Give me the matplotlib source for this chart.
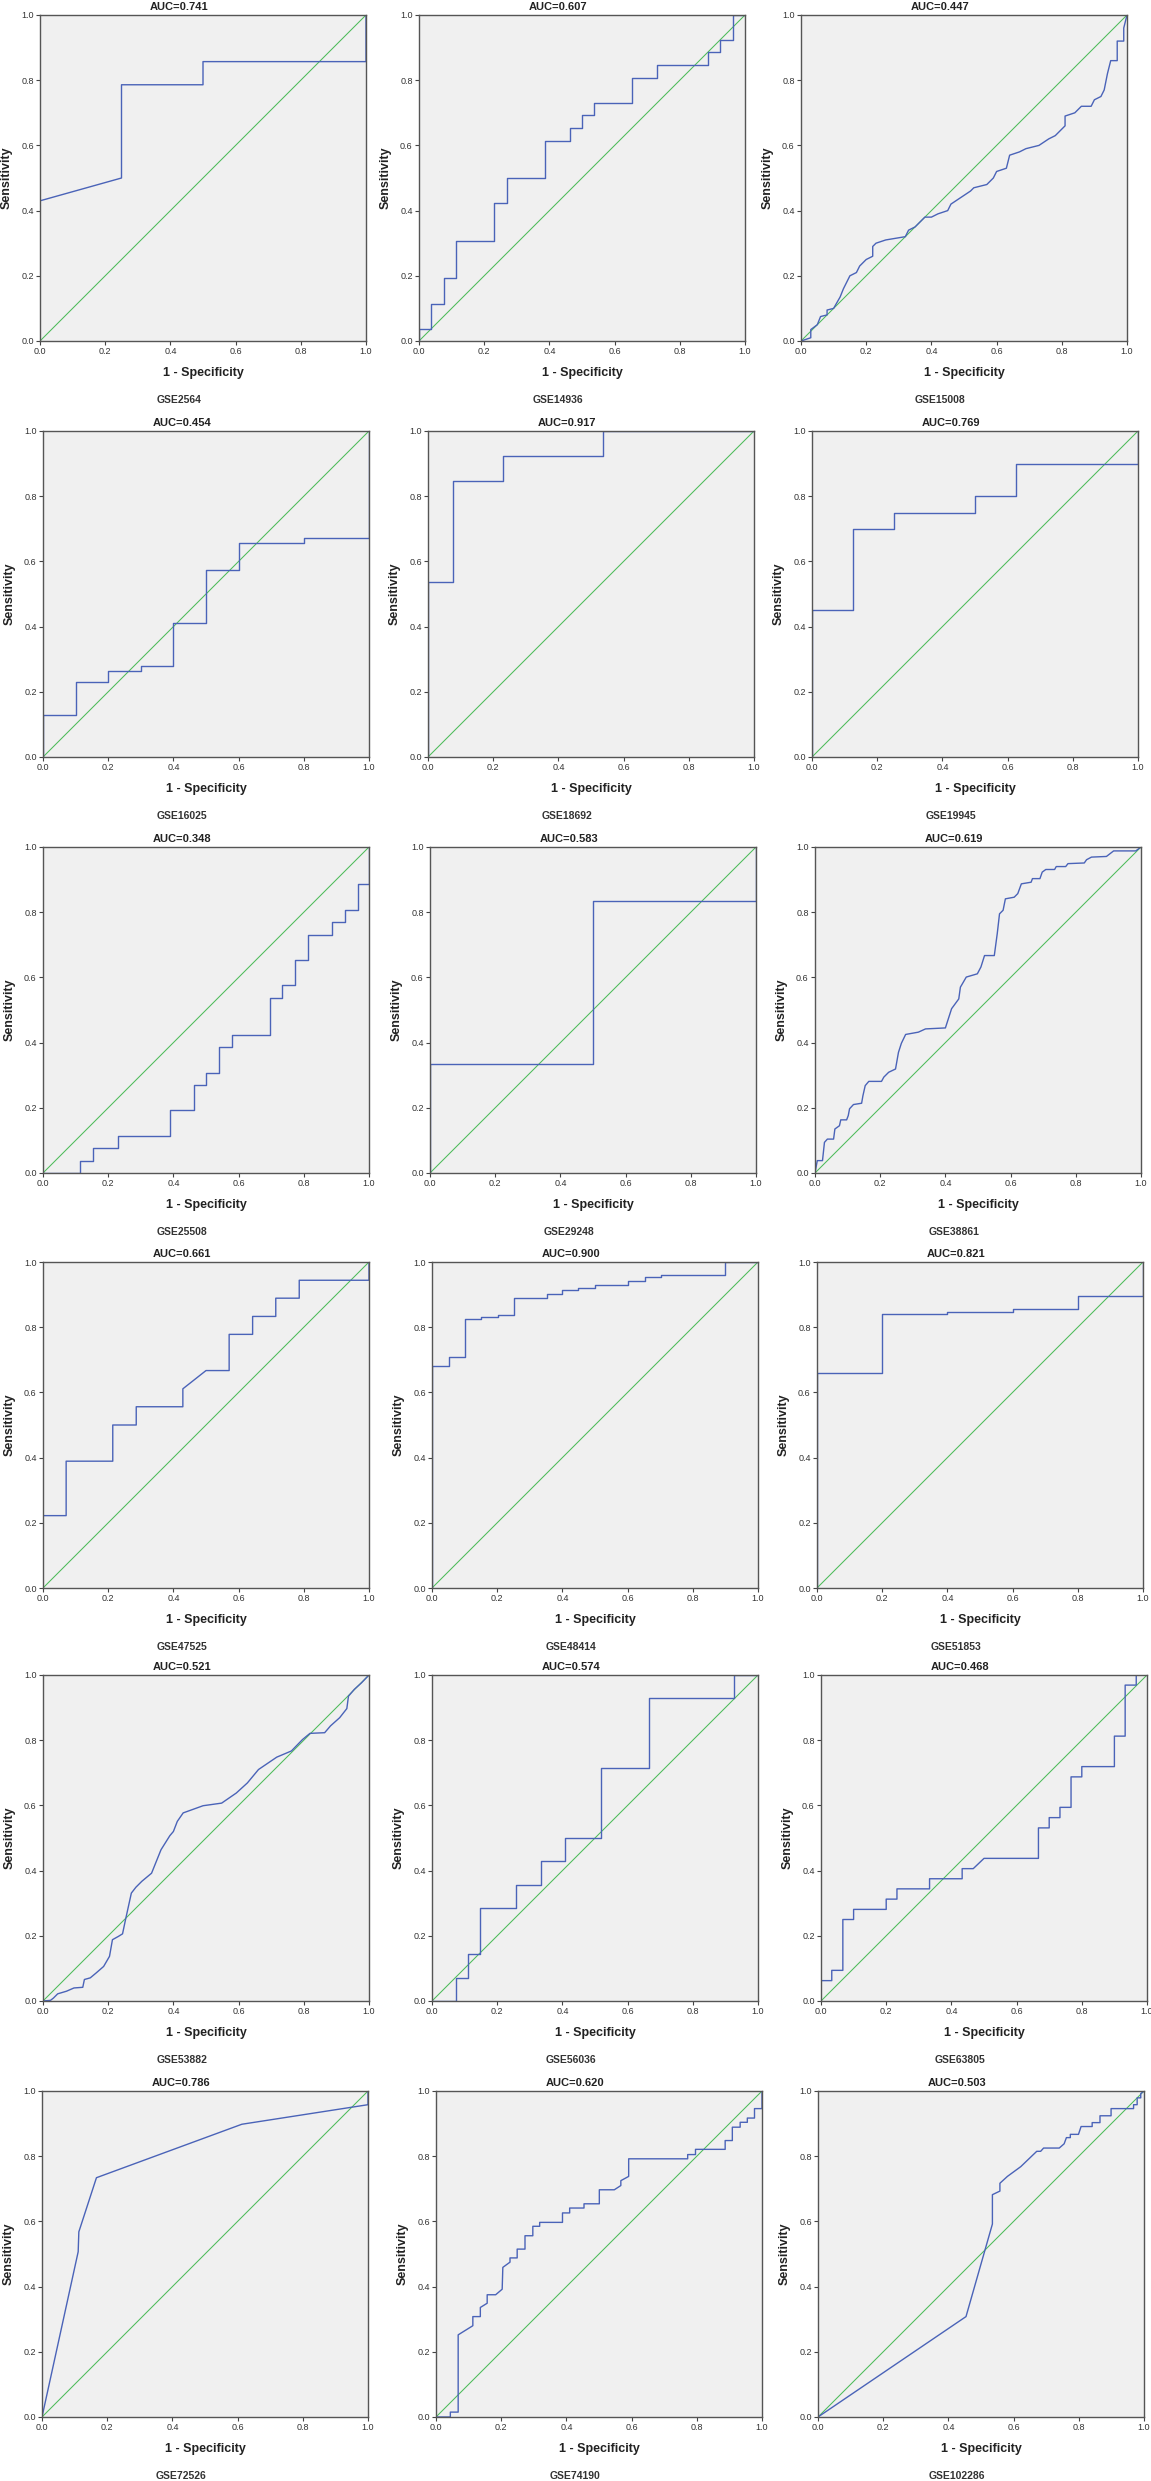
import matplotlib
matplotlib.use('Agg')
import matplotlib.pyplot as plt

plt.rcParams['font.family'] = ['Liberation Sans', 'DejaVu Sans']

# ---- data (1 - specificity, sensitivity) ----
datasets = ['GSE2564', 'GSE14936', 'GSE15008',
            'GSE16025', 'GSE18692', 'GSE19945',
            'GSE25508', 'GSE29248', 'GSE38861',
            'GSE47525', 'GSE48414', 'GSE51853',
            'GSE53882', 'GSE56036', 'GSE63805',
            'GSE72526', 'GSE74190', 'GSE102286']
auc = ['0.741', '0.607', '0.447',
       '0.454', '0.917', '0.769',
       '0.348', '0.583', '0.619',
       '0.661', '0.900', '0.821',
       '0.521', '0.574', '0.468',
       '0.786', '0.620', '0.503']

fpr_2564 = [0, 0, 0.25, 0.25, 0.5, 0.5, 1, 1]
tpr_2564 = [0, 0.43, 0.5, 0.786, 0.786, 0.857, 0.857, 1]

fpr_14936 = [0, 0, 0.038, 0.038, 0.077, 0.077, 0.115, 0.115, 0.231, 0.231, 0.269, 0.269,
             0.385, 0.385, 0.462, 0.462, 0.5, 0.5, 0.538, 0.538, 0.654, 0.654, 0.731, 0.731,
             0.885, 0.885, 0.923, 0.923, 0.962, 0.962, 1]
tpr_14936 = [0, 0.038, 0.038, 0.115, 0.115, 0.192, 0.192, 0.308, 0.308, 0.423, 0.423, 0.5,
             0.5, 0.615, 0.615, 0.654, 0.654, 0.692, 0.692, 0.731, 0.731, 0.808, 0.808, 0.846,
             0.846, 0.885, 0.885, 0.923, 0.923, 1, 1]

fpr_15008 = [0, 0.03, 0.03, 0.05, 0.06, 0.08, 0.08, 0.10, 0.12, 0.13, 0.14, 0.15, 0.17, 0.18,
             0.19, 0.20, 0.22, 0.22, 0.23, 0.26, 0.32, 0.33, 0.35, 0.36, 0.38, 0.40, 0.42, 0.45,
             0.46, 0.49, 0.52, 0.53, 0.57, 0.59, 0.60, 0.63, 0.64, 0.67, 0.69, 0.73, 0.76, 0.78,
             0.81, 0.81, 0.84, 0.86, 0.89, 0.90, 0.92, 0.93, 0.94, 0.95, 0.97, 0.97, 0.99, 0.99, 1.0]
tpr_15008 = [0, 0.01, 0.035, 0.05, 0.075, 0.08, 0.095, 0.10, 0.135, 0.16, 0.18, 0.20, 0.21, 0.23,
             0.24, 0.25, 0.26, 0.29, 0.30, 0.31, 0.32, 0.34, 0.35, 0.36, 0.38, 0.38, 0.39, 0.40,
             0.42, 0.44, 0.46, 0.47, 0.48, 0.50, 0.52, 0.53, 0.57, 0.58, 0.59, 0.60, 0.62, 0.63,
             0.66, 0.69, 0.70, 0.72, 0.72, 0.74, 0.75, 0.77, 0.82, 0.86, 0.86, 0.92, 0.92, 0.96, 1.0]

fpr_16025 = [0, 0, 0.1, 0.1, 0.2, 0.2, 0.3, 0.3, 0.4, 0.4, 0.5, 0.5, 0.6, 0.6, 0.8, 0.8, 1, 1]
tpr_16025 = [0, 0.13, 0.13, 0.23, 0.23, 0.263, 0.263, 0.28, 0.28, 0.41, 0.41, 0.574, 0.574,
             0.656, 0.656, 0.672, 0.672, 1]

fpr_18692 = [0, 0, 0.077, 0.077, 0.231, 0.231, 0.538, 0.538, 1]
tpr_18692 = [0, 0.538, 0.538, 0.846, 0.846, 0.923, 0.923, 1, 1]

fpr_19945 = [0, 0, 0.125, 0.125, 0.25, 0.25, 0.5, 0.5, 0.625, 0.625, 1, 1]
tpr_19945 = [0, 0.45, 0.45, 0.7, 0.7, 0.75, 0.75, 0.8, 0.8, 0.9, 0.9, 1]

fpr_25508 = [0, 0.113, 0.113, 0.154, 0.154, 0.231, 0.231, 0.389, 0.389, 0.462, 0.462, 0.5, 0.5,
             0.541, 0.541, 0.581, 0.581, 0.695, 0.695, 0.733, 0.733, 0.774, 0.774, 0.812, 0.812,
             0.887, 0.887, 0.925, 0.925, 0.966, 0.966, 1, 1]
tpr_25508 = [0, 0, 0.038, 0.038, 0.077, 0.077, 0.115, 0.115, 0.192, 0.192, 0.269, 0.269, 0.308,
             0.308, 0.385, 0.385, 0.423, 0.423, 0.538, 0.538, 0.577, 0.577, 0.654, 0.654, 0.731,
             0.731, 0.769, 0.769, 0.808, 0.808, 0.885, 0.885, 1]

fpr_29248 = [0, 0, 0.5, 0.5, 1, 1]
tpr_29248 = [0, 0.333, 0.333, 0.833, 0.833, 1]

fpr_38861 = [0, 0.007, 0.023, 0.029, 0.038, 0.057, 0.061, 0.075, 0.079, 0.097, 0.102, 0.106,
             0.118, 0.143, 0.147, 0.154, 0.165, 0.204, 0.211, 0.226, 0.247, 0.256, 0.265, 0.278,
             0.317, 0.339, 0.4, 0.409, 0.419, 0.441, 0.446, 0.464, 0.498, 0.509, 0.52, 0.55,
             0.559, 0.566, 0.577, 0.584, 0.611, 0.622, 0.633, 0.663, 0.667, 0.69, 0.697, 0.708,
             0.735, 0.74, 0.769, 0.776, 0.826, 0.833, 0.848, 0.894, 0.916, 0.984, 1]
tpr_38861 = [0, 0.038, 0.038, 0.094, 0.104, 0.104, 0.135, 0.145, 0.163, 0.163, 0.176, 0.197,
             0.21, 0.214, 0.237, 0.268, 0.281, 0.281, 0.294, 0.309, 0.319, 0.37, 0.398, 0.425,
             0.432, 0.442, 0.445, 0.473, 0.504, 0.534, 0.57, 0.601, 0.611, 0.632, 0.667, 0.667,
             0.734, 0.795, 0.806, 0.841, 0.846, 0.857, 0.887, 0.892, 0.903, 0.903, 0.923, 0.931,
             0.931, 0.94, 0.94, 0.949, 0.951, 0.961, 0.969, 0.971, 0.988, 0.988, 1]

fpr_47525 = [0, 0, 0.071, 0.071, 0.214, 0.214, 0.286, 0.286, 0.429, 0.429, 0.5, 0.571, 0.571,
             0.643, 0.643, 0.714, 0.714, 0.786, 0.786, 1, 1]
tpr_47525 = [0, 0.222, 0.222, 0.389, 0.389, 0.5, 0.5, 0.556, 0.556, 0.611, 0.667, 0.667, 0.778,
             0.778, 0.833, 0.833, 0.889, 0.889, 0.944, 0.944, 1]

fpr_48414 = [0, 0, 0.052, 0.052, 0.101, 0.101, 0.151, 0.151, 0.202, 0.202, 0.252, 0.252, 0.353,
             0.353, 0.4, 0.4, 0.449, 0.449, 0.501, 0.501, 0.6, 0.6, 0.652, 0.652, 0.701, 0.701,
             0.899, 0.899, 1]
tpr_48414 = [0, 0.681, 0.681, 0.708, 0.708, 0.824, 0.824, 0.831, 0.831, 0.836, 0.836, 0.889,
             0.889, 0.903, 0.903, 0.915, 0.915, 0.921, 0.921, 0.928, 0.928, 0.941, 0.941, 0.953,
             0.953, 0.959, 0.959, 1, 1]

fpr_51853 = [0, 0, 0.2, 0.2, 0.4, 0.4, 0.6, 0.6, 0.8, 0.8, 1, 1]
tpr_51853 = [0, 0.658, 0.658, 0.842, 0.842, 0.848, 0.848, 0.855, 0.855, 0.895, 0.895, 1]

fpr_53882 = [0, 0.023, 0.032, 0.045, 0.072, 0.095, 0.122, 0.127, 0.145, 0.163, 0.186, 0.204,
             0.213, 0.231, 0.244, 0.253, 0.262, 0.271, 0.285, 0.303, 0.333, 0.362, 0.389, 0.4,
             0.412, 0.43, 0.491, 0.548, 0.593, 0.627, 0.661, 0.717, 0.762, 0.796, 0.819, 0.864,
             0.882, 0.91, 0.932, 0.937, 0.955, 0.977, 1]
tpr_53882 = [0, 0.002, 0.009, 0.022, 0.03, 0.04, 0.042, 0.066, 0.071, 0.086, 0.106, 0.137,
             0.188, 0.198, 0.206, 0.249, 0.29, 0.331, 0.349, 0.367, 0.392, 0.464, 0.507, 0.52,
             0.551, 0.577, 0.599, 0.607, 0.638, 0.669, 0.71, 0.748, 0.767, 0.802, 0.821, 0.823,
             0.844, 0.869, 0.897, 0.935, 0.956, 0.976, 1]

fpr_56036 = [0, 0.074, 0.074, 0.111, 0.111, 0.148, 0.148, 0.259, 0.259, 0.333, 0.333, 0.407,
             0.407, 0.519, 0.519, 0.667, 0.667, 0.926, 0.926, 1]
tpr_56036 = [0, 0, 0.071, 0.071, 0.143, 0.143, 0.286, 0.286, 0.357, 0.357, 0.429, 0.429, 0.5,
             0.5, 0.714, 0.714, 0.929, 0.929, 1, 1]

fpr_63805 = [0, 0, 0.033, 0.033, 0.067, 0.067, 0.1, 0.1, 0.2, 0.2, 0.233, 0.233, 0.333, 0.333,
             0.433, 0.433, 0.467, 0.5, 0.667, 0.667, 0.7, 0.7, 0.733, 0.733, 0.767, 0.767, 0.8,
             0.8, 0.9, 0.9, 0.933, 0.933, 0.967, 0.967, 1]
tpr_63805 = [0, 0.0625, 0.0625, 0.094, 0.094, 0.25, 0.25, 0.281, 0.281, 0.3125, 0.3125, 0.344,
             0.344, 0.375, 0.375, 0.406, 0.406, 0.4375, 0.4375, 0.531, 0.531, 0.5625, 0.5625,
             0.594, 0.594, 0.6875, 0.6875, 0.719, 0.719, 0.8125, 0.8125, 0.969, 0.969, 1, 1]

fpr_72526 = [0, 0.111, 0.113, 0.167, 0.613, 1, 1]
tpr_72526 = [0, 0.507, 0.568, 0.734, 0.898, 0.958, 1]

fpr_74190 = [0, 0.044, 0.044, 0.068, 0.068, 0.113, 0.113, 0.136, 0.136, 0.157, 0.157, 0.183,
             0.203, 0.205, 0.227, 0.227, 0.249, 0.249, 0.273, 0.273, 0.297, 0.297, 0.318, 0.318,
             0.388, 0.388, 0.41, 0.41, 0.454, 0.454, 0.501, 0.501, 0.547, 0.567, 0.567, 0.591,
             0.591, 0.772, 0.772, 0.796, 0.796, 0.887, 0.887, 0.909, 0.909, 0.933, 0.933, 0.955,
             0.955, 0.977, 0.977, 1, 1]
tpr_74190 = [0, 0, 0.015, 0.015, 0.252, 0.28, 0.308, 0.308, 0.336, 0.349, 0.375, 0.375,
             0.392, 0.459, 0.475, 0.488, 0.488, 0.515, 0.515, 0.556, 0.556, 0.585, 0.585, 0.597,
             0.597, 0.626, 0.626, 0.641, 0.641, 0.654, 0.654, 0.697, 0.697, 0.71, 0.725, 0.738,
             0.792, 0.792, 0.805, 0.805, 0.821, 0.821, 0.848, 0.848, 0.889, 0.889, 0.904, 0.904,
             0.917, 0.917, 0.946, 0.946, 1]

fpr_102286 = [0, 0.454, 0.535, 0.535, 0.558, 0.558, 0.581, 0.622, 0.671, 0.683, 0.692, 0.74,
              0.755, 0.762, 0.774, 0.774, 0.799, 0.807, 0.841, 0.841, 0.865, 0.865, 0.899, 0.899,
              0.968, 0.968, 0.979, 0.979, 0.99, 0.99, 1]
tpr_102286 = [0, 0.308, 0.592, 0.682, 0.693, 0.717, 0.738, 0.768, 0.815, 0.815, 0.825, 0.825,
              0.838, 0.857, 0.857, 0.867, 0.867, 0.891, 0.891, 0.903, 0.903, 0.924, 0.924, 0.946,
              0.946, 0.958, 0.958, 0.979, 0.979, 0.992, 1]

fprs = [fpr_2564, fpr_14936, fpr_15008, fpr_16025, fpr_18692, fpr_19945,
        fpr_25508, fpr_29248, fpr_38861, fpr_47525, fpr_48414, fpr_51853,
        fpr_53882, fpr_56036, fpr_63805, fpr_72526, fpr_74190, fpr_102286]
tprs = [tpr_2564, tpr_14936, tpr_15008, tpr_16025, tpr_18692, tpr_19945,
        tpr_25508, tpr_29248, tpr_38861, tpr_47525, tpr_48414, tpr_51853,
        tpr_53882, tpr_56036, tpr_63805, tpr_72526, tpr_74190, tpr_102286]

# ---- layout (pixels) ----
W, H = 1151, 2481
row_top = [15, 431, 847, 1262, 1675, 2091]
col_left = [[40, 419, 801], [43, 428, 812], [43, 430, 815],
            [43, 432, 817], [43, 432, 821], [42, 436, 818]]
size = 326

fig = plt.figure(figsize=(W / 100, H / 100), dpi=100)

for i in range(18):
    r, c = divmod(i, 3)
    left, top = col_left[r][c], row_top[r]
    ax = fig.add_axes([left / W, 1 - (top + size) / H, size / W, size / H])
    ax.set_facecolor('#f0f0f0')
    ax.plot([0, 1], [0, 1], color='#4cbb5a', lw=0.75, zorder=2.1)
    ax.plot(fprs[i], tprs[i], color='#4a63b8', lw=1.0, zorder=2.2)
    ax.set_xlim(0, 1)
    ax.set_ylim(0, 1)
    ticks = [0, 0.2, 0.4, 0.6, 0.8, 1.0]
    ax.set_xticks(ticks)
    ax.set_yticks(ticks)
    ax.set_xticklabels(['%.1f' % t for t in ticks])
    ax.set_yticklabels(['%.1f' % t for t in ticks])
    ax.tick_params(direction='out', length=3, width=0.8, labelsize=6.5,
                   colors='#444444', labelcolor='#333333', pad=1.5)
    for s in ax.spines.values():
        s.set_color('#555555')
        s.set_linewidth(1.0)
        s.set_zorder(3)

    cx = left + size / 2
    fig.text((cx - 24) / W, 1 - (top - 8) / H, 'AUC=' + auc[i], ha='center', va='center',
             fontsize=8, fontweight='bold', color='#222222')
    fig.text(cx / W, 1 - (top + size + 32) / H, '1 - Specificity', ha='center', va='center',
             fontsize=9, fontweight='bold', color='#222222')
    fig.text((left - 33) / W, 1 - (top + size / 2) / H, 'Sensitivity', ha='center',
             va='center', rotation=90, fontsize=9, fontweight='bold', color='#222222')
    fig.text((cx - 24) / W, 1 - (top + size + 59) / H, datasets[i], ha='center', va='center',
             fontsize=7.5, fontweight='bold', color='#333333')

fig.savefig('out.png', dpi=100, facecolor='white')
